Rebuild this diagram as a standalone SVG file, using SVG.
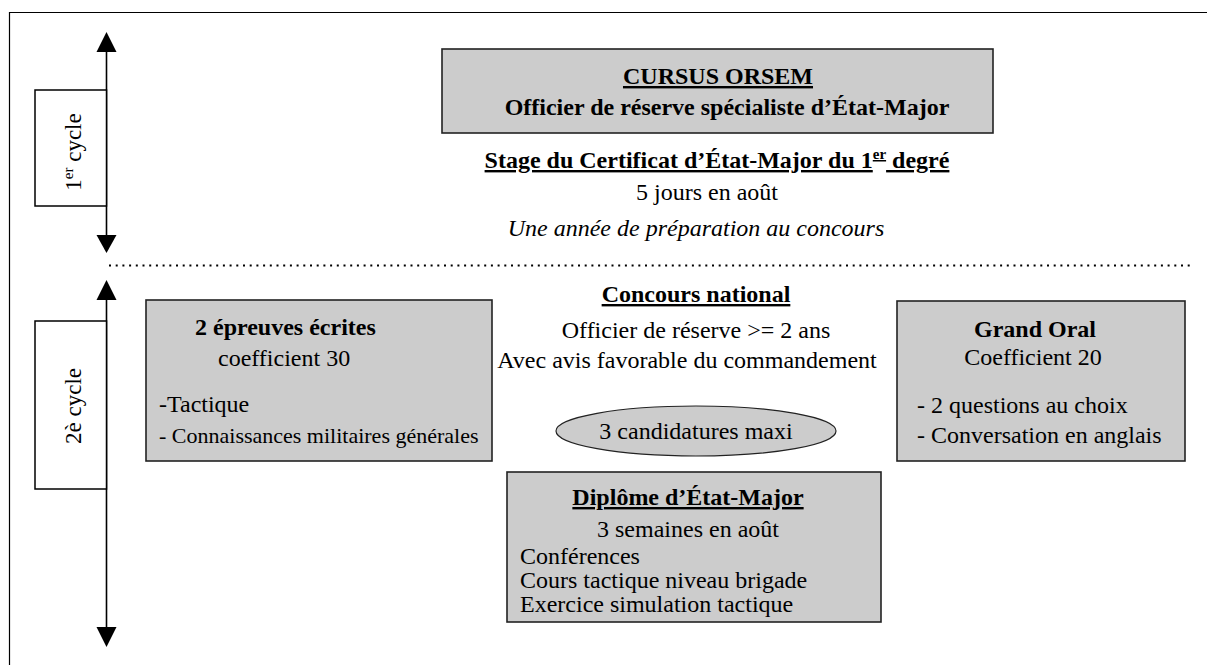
<svg xmlns="http://www.w3.org/2000/svg" width="1207" height="665" viewBox="0 0 1207 665">
  <defs>
    <style>
      text { font-family: "Liberation Serif", "Times New Roman", serif; font-size: 24px; fill: #000; }
      .b { font-weight: bold; }
      .u { text-decoration: underline; }
      .i { font-style: italic; }
      .m { text-anchor: middle; }
      .sm { font-size: 22px; }
      .box { fill: #cccccc; stroke: #222; stroke-width: 1.6; }
      .side { fill: #fff; stroke: #000; stroke-width: 1.5; }
      .rot { font-size: 23px; }
      .axis { stroke: #000; stroke-width: 1.6; fill: none; }
      .head { fill: #000; }
    </style>
  </defs>
  <rect width="1207" height="665" fill="#fff"/>
  <!-- frame -->
  <path d="M9.5 665 V12.5 H1207" fill="none" stroke="#000" stroke-width="1.2"/>
  <!-- separator -->
  <line x1="109" y1="265.5" x2="1192" y2="265.5" stroke="#000" stroke-width="2" stroke-dasharray="2 4.7"/>

  <g id="connectors">
    <line class="axis" x1="106.5" y1="50" x2="106.5" y2="237"/>
    <polygon class="head" points="106.5,32 96.5,52 116.5,52"/>
    <polygon class="head" points="106.5,253 96.5,235 116.5,235"/>
    <line class="axis" x1="106.5" y1="298" x2="106.5" y2="629"/>
    <polygon class="head" points="106.5,280 96.5,300 116.5,300"/>
    <polygon class="head" points="106.5,647 96.5,627 116.5,627"/>
  </g>

  <g id="cycle1">
    <rect class="side" x="35" y="90" width="71.5" height="116"/>
    <text class="rot m" transform="translate(81,152) rotate(-90)">1<tspan font-size="15" dy="-8">er</tspan><tspan dy="8"> cycle</tspan></text>
  </g>

  <g id="cycle2">
    <rect class="side" x="35" y="321" width="71.5" height="168"/>
    <text class="rot m" transform="translate(81,406) rotate(-90)">2è cycle</text>
  </g>

  <g id="cursus">
    <rect class="box" x="442" y="49" width="551" height="84"/>
    <text class="b u m" x="718" y="84">CURSUS ORSEM</text>
    <text class="b m" x="727" y="115">Officier de réserve spécialiste d’État-Major</text>
  </g>

  <g id="stage">
    <text class="b u m" x="717" y="168">Stage du Certificat d’État-Major du 1<tspan font-size="15" dy="-9">er</tspan><tspan dy="9"> degré</tspan></text>
    <text class="m" x="707" y="200">5 jours en août</text>
    <text class="i m" x="696" y="236">Une année de préparation au concours</text>
  </g>

  <g id="ecrites">
    <rect class="box" x="146" y="300" width="346" height="161"/>
    <text class="b" x="195" y="335">2 épreuves écrites</text>
    <text x="218" y="366">coefficient 30</text>
    <text x="159" y="412">-Tactique</text>
    <text class="sm" x="159" y="443">- Connaissances militaires générales</text>
  </g>

  <g id="concours">
    <text class="b u m" x="696" y="302">Concours national</text>
    <text class="m" x="696" y="338">Officier de réserve &gt;= 2 ans</text>
    <text class="m" x="687" y="368">Avec avis favorable du commandement</text>
  </g>

  <g id="candidatures">
    <ellipse cx="696" cy="431" rx="140" ry="25" fill="#cccccc" stroke="#222" stroke-width="1.2"/>
    <text class="m" x="696" y="439">3 candidatures maxi</text>
  </g>

  <g id="oral">
    <rect class="box" x="897" y="301" width="288" height="160"/>
    <text class="b m" x="1035" y="337">Grand Oral</text>
    <text class="m" x="1033" y="365">Coefficient 20</text>
    <text x="917" y="413">- 2 questions au choix</text>
    <text x="917" y="443">- Conversation en anglais</text>
  </g>

  <g id="diplome">
    <rect class="box" x="507" y="472" width="374" height="150"/>
    <text class="b u m" x="688" y="505">Diplôme d’État-Major</text>
    <text class="m" x="688" y="537">3 semaines en août</text>
    <text x="520" y="564">Conférences</text>
    <text x="520" y="588">Cours tactique niveau brigade</text>
    <text x="520" y="612">Exercice simulation tactique</text>
  </g>
</svg>
